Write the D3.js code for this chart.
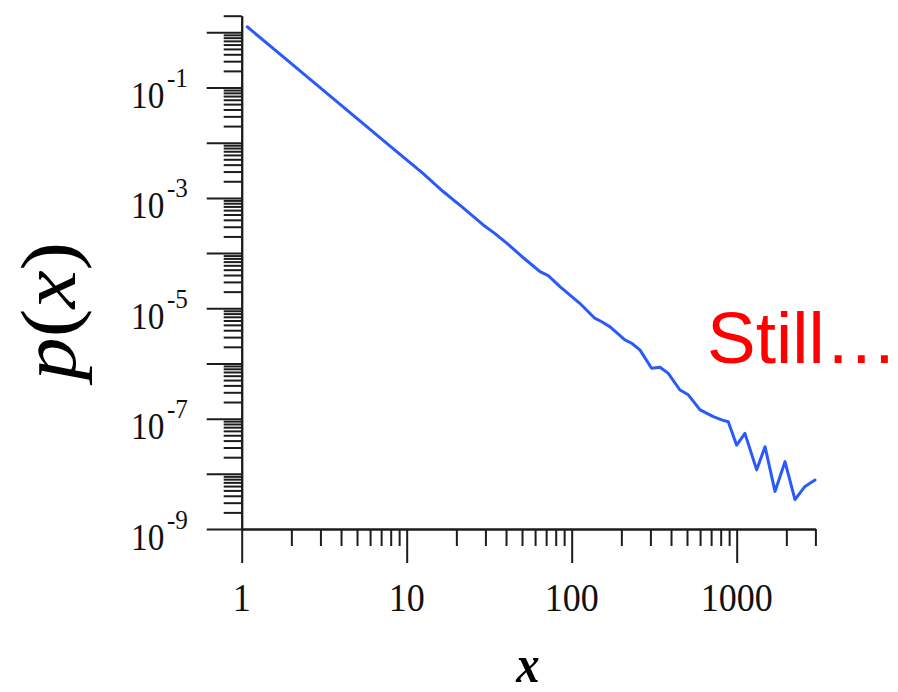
<!DOCTYPE html>
<html>
<head>
<meta charset="utf-8">
<script src="https://cdn.jsdelivr.net/npm/d3@7"></script>
<style>
  html, body { margin: 0; padding: 0; background: #fff; }
  svg { display: block; }
</style>
</head>
<body>
<svg id="chart" width="898" height="692"></svg>
<script>
// Histogram of a power-law sample, shown on log-log axes.
const binCentres = [
  1.08, 2, 4, 8, 12.5, 16.7, 22, 29.1, 34, 40.4, 52, 64.3, 72.1, 84.9,
  112, 138, 152, 171, 210, 231, 259, 305, 343, 385, 453, 509, 600, 722,
  811, 889, 1000, 1122, 1322, 1485, 1707, 1963, 2256, 2594, 2983
];
const density = [
  1.26, 0.27, 0.048, 0.0085, 0.0028, 1.29e-3, 6.6e-4, 3.23e-4, 2.3e-4, 1.51e-4,
  7.8e-5, 4.6e-5, 3.9e-5, 2.46e-5,
  1.23e-5, 6.6e-6, 5.7e-6, 4.6e-6, 2.67e-6, 2.32e-6, 1.76e-6, 8.2e-7, 8.5e-7,
  6.6e-7, 3.3e-7, 2.7e-7, 1.44e-7, 1.09e-7,
  9.5e-8, 8.8e-8, 3.3e-8, 5.4e-8, 1.18e-8, 3.1e-8, 4.8e-9, 1.66e-8, 3.4e-9,
  5.9e-9, 7.7e-9
];

const xDomain = [1, 3000];
const yDomain = [1e-9, 2];
const xLabelValues = [1, 10, 100, 1000];
const xLabelTexts = ["1", "10", "100", "1000"];
const yLabelExponents = [-1, -3, -5, -7, -9];
const yTitle = ["p", "(", "x", ")"];
const xTitle = "x";
const note = "Still…";

const svg = d3.select("#chart");

const x = d3.scaleLog().domain(xDomain).range([241.7, 815.4]);
const y = d3.scaleLog().domain(yDomain).range([529, 15.7]);

const isDecade = v => Math.abs(Math.log10(v) - Math.round(Math.log10(v))) < 1e-9;

const xMajor = x.ticks(20).filter(isDecade);
const xMinor = x.ticks(20).filter(v => !isDecade(v));
const yMajor = y.ticks(20).filter(isDecade);
const yMinor = y.ticks(20).filter(v => !isDecade(v));

const axisColor = "#1c1c1c";

function styleAxis(g) {
  g.select(".domain").attr("stroke", axisColor).attr("stroke-width", 2);
  g.selectAll(".tick line").attr("stroke", axisColor).attr("stroke-width", 2);
  g.selectAll(".tick text").remove();
}

// y axis: minor ticks, then long decade ticks
svg.append("g")
  .attr("transform", `translate(${x(1)},0)`)
  .call(d3.axisLeft(y).tickValues(yMinor).tickSize(18).tickSizeOuter(0).tickFormat(""))
  .call(styleAxis);

svg.append("g")
  .attr("transform", `translate(${x(1)},0)`)
  .call(d3.axisLeft(y).tickValues(yMajor).tickSize(35).tickSizeOuter(0).tickFormat(""))
  .call(styleAxis);

// x axis: minor ticks, then long decade ticks
svg.append("g")
  .attr("transform", `translate(0,${y(1e-9)})`)
  .call(d3.axisBottom(x).tickValues(xMinor).tickSize(17).tickSizeOuter(0).tickFormat(""))
  .call(styleAxis);

svg.append("g")
  .attr("transform", `translate(0,${y(1e-9)})`)
  .call(d3.axisBottom(x).tickValues(xMajor).tickSize(34).tickSizeOuter(0).tickFormat(""))
  .call(styleAxis);

// y tick labels: 10 with a superscript exponent
const yLabels = svg.append("g")
  .attr("font-family", "'Liberation Serif', 'Times New Roman', serif")
  .attr("fill", "#111");

yLabelExponents.forEach(e => {
  const g = yLabels.append("g")
    .attr("transform", `translate(131,${y(Math.pow(10, e))}) scale(0.9,1)`);
  const t = g.append("text").attr("x", 0).attr("y", 20.5).attr("font-size", 37);
  t.append("tspan").text("10");
  t.append("tspan").attr("dy", -21).attr("dx", 3).attr("font-size", 28).text(String(e));
});

// x tick labels
const xLabels = svg.append("g")
  .attr("font-family", "'Liberation Serif', 'Times New Roman', serif")
  .attr("fill", "#111");

xLabelValues.forEach((v, i) => {
  xLabels.append("text")
    .attr("transform", `translate(${x(v)},${y(1e-9) + 81.7}) scale(0.89,1)`)
    .attr("text-anchor", "middle")
    .attr("font-size", 40.5)
    .text(xLabelTexts[i]);
});

// data line
const points = binCentres.map((c, i) => ({ c, p: density[i] }));
svg.append("path")
  .datum(points)
  .attr("fill", "none")
  .attr("stroke", "#2a5af8")
  .attr("stroke-width", 3)
  .attr("stroke-linejoin", "round")
  .attr("stroke-linecap", "round")
  .attr("d", d3.line().x(d => x(d.c)).y(d => y(d.p)));

// axis titles
const yTitleText = svg.append("text")
  .attr("transform", "translate(75,311) rotate(-90) scale(1,0.9)")
  .attr("text-anchor", "middle")
  .attr("font-family", "'Liberation Serif', 'Times New Roman', serif")
  .attr("font-size", 86)
  .attr("fill", "#000");
yTitle.forEach(s => {
  yTitleText.append("tspan")
    .attr("font-style", /[a-z]/.test(s) ? "italic" : "normal")
    .text(s);
});

svg.append("text")
  .attr("transform", `translate(528,681.7) scale(0.9,1)`)
  .attr("text-anchor", "middle")
  .attr("font-family", "'Liberation Serif', 'Times New Roman', serif")
  .attr("font-style", "italic")
  .attr("font-weight", "bold")
  .attr("font-size", 52)
  .attr("fill", "#000")
  .text(xTitle);

// annotation
svg.append("text")
  .attr("x", 707)
  .attr("y", 362.7)
  .attr("font-family", "'Liberation Sans', Arial, sans-serif")
  .attr("font-size", 73)
  .attr("fill", "#ff0000")
  .text(note);
</script>
</body>
</html>
